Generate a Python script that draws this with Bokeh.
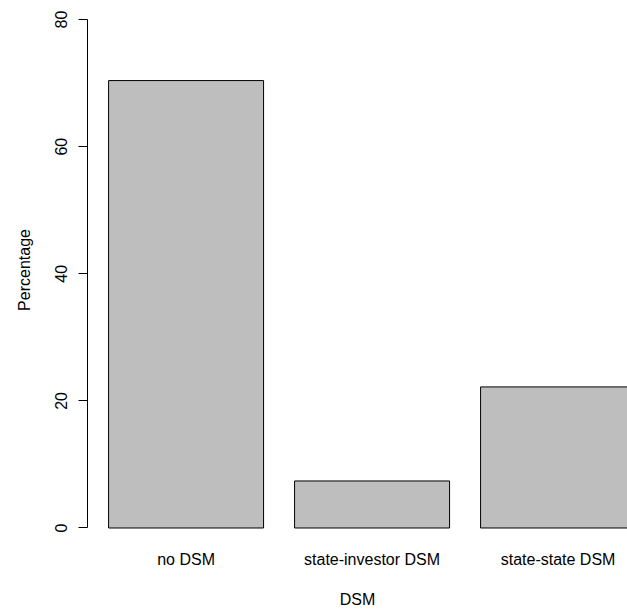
from bokeh.plotting import figure
from bokeh.models import FixedTicker, ColumnDataSource
from bokeh.embed import file_html
from bokeh.resources import INLINE

categories = ["no DSM", "state-investor DSM", "state-state DSM"]
values = [70.4, 7.4, 22.2]
y_ticks = [0, 20, 40, 60, 80]

# R barplot layout: width 1, space 0.2
bar_width = 1.0
space = 0.2
centers = [space + bar_width / 2 + i * (bar_width + space) for i in range(len(categories))]

src = ColumnDataSource(dict(x=centers, top=values, cat=categories))

FONT = "Liberation Sans"

p = figure(width=627, height=610, output_backend="svg", toolbar_location=None,
           x_range=(0.064, 3.548), y_range=(-1.81, 83.0),
           min_border_left=87, min_border_right=0, min_border_top=0, min_border_bottom=62)

p.vbar(x="x", top="top", bottom=0, width=bar_width, source=src,
       fill_color="#BEBEBE", line_color="black", line_width=1)

p.grid.visible = False
p.outline_line_color = None
p.background_fill_color = "white"
p.border_fill_color = "white"

# x axis: labels only
xa = p.xaxis[0]
xa.ticker = FixedTicker(ticks=centers)
xa.major_label_overrides = {c: cat for c, cat in zip(centers, categories)}
xa.axis_line_color = None
xa.major_tick_line_color = None
xa.minor_tick_line_color = None
xa.major_label_text_font = FONT
xa.major_label_text_font_size = "16px"
xa.major_label_text_color = "black"
xa.major_label_standoff = 5
xa.axis_label = "DSM"
xa.axis_label_text_font = FONT
xa.axis_label_text_font_size = "16px"
xa.axis_label_text_font_style = "normal"
xa.axis_label_text_color = "black"
xa.axis_label_standoff = 20

# y axis
ya = p.yaxis[0]
ya.ticker = FixedTicker(ticks=y_ticks)
ya.bounds = (0, 80)
ya.axis_line_color = "black"
ya.major_tick_line_color = "black"
ya.major_tick_out = 9
ya.major_tick_in = 0
ya.minor_tick_line_color = None
ya.major_label_orientation = "vertical"
ya.major_label_text_font = FONT
ya.major_label_text_font_size = "16px"
ya.major_label_text_color = "black"
ya.major_label_standoff = 11
ya.axis_label = "Percentage"
ya.axis_label_text_font = FONT
ya.axis_label_text_font_size = "16px"
ya.axis_label_text_font_style = "normal"
ya.axis_label_text_color = "black"
ya.axis_label_standoff = 20

open("out.html", "w").write(file_html(p, INLINE))
